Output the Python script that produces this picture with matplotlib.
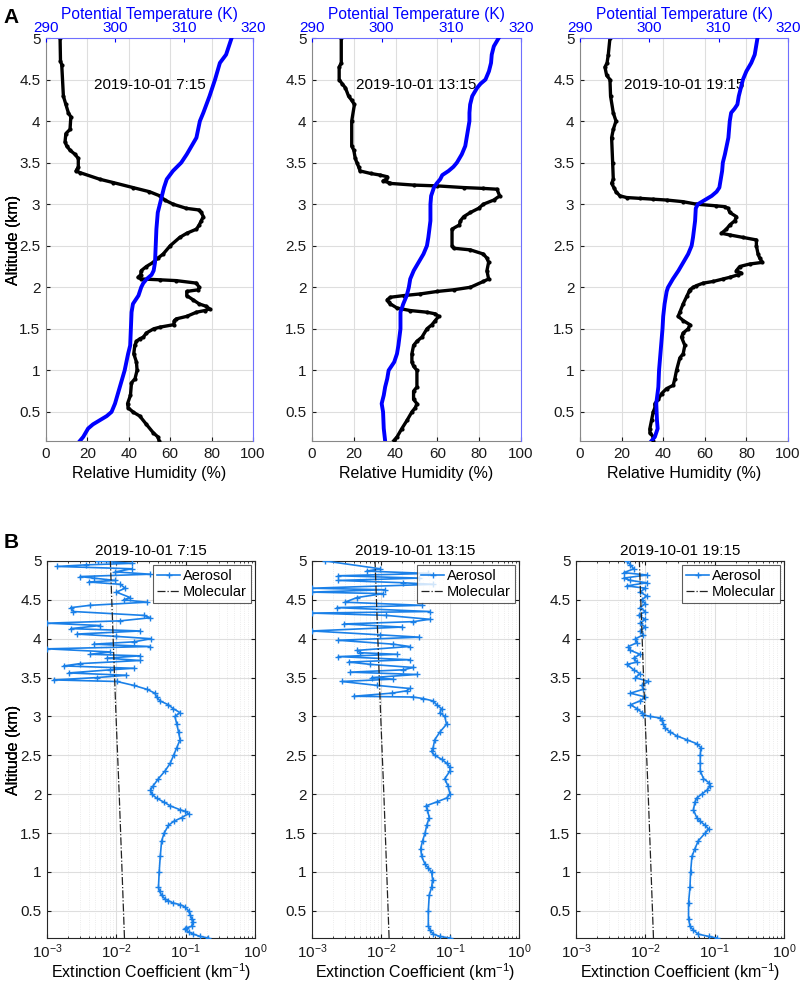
import numpy as np
import matplotlib
matplotlib.use("Agg")
import matplotlib.pyplot as plt
from matplotlib.ticker import LogLocator, NullFormatter, FixedLocator

plt.rcParams['font.family'] = ['Liberation Sans', 'DejaVu Sans']
plt.rcParams['mathtext.default'] = 'regular'
plt.rcParams['axes.unicode_minus'] = True

# ---------------- DATA ----------------
titles = ["2019-10-01 7:15", "2019-10-01 13:15", "2019-10-01 19:15"]

# Relative humidity profiles (altitude km, RH %)
rh_715 = [(5.0,6.8),(4.72,7.0),(4.68,7.6),(4.3,8.4),(4.2,9.6),(4.1,10.8),(4.05,12.0),(3.9,11.6),(3.85,9.6),
          (3.75,9.2),(3.7,10.0),(3.65,11.6),(3.6,14.0),(3.55,15.6),(3.45,15.6),(3.42,15.0),(3.4,14.5),(3.38,16.4),
          (3.3,26),(3.26,32.5),(3.2,42),(3.15,50),(3.1,55),(3.05,57.4),(3.0,61.4),(2.95,67.8),(2.93,74),(2.9,75),
          (2.85,76),(2.8,75),(2.75,74),(2.7,72.7),(2.65,68),(2.6,64.6),(2.5,60),(2.4,56.6),(2.35,54),(2.3,51.8),
          (2.25,48.5),(2.2,46),(2.15,45.7),(2.12,44.5),(2.1,46),(2.09,55),(2.08,63),(2.05,72.7),(2.0,74),(1.97,73.5),
          (1.95,68),(1.9,68),(1.85,71),(1.8,74),(1.77,77.5),(1.74,79),(1.72,76.7),(1.7,72.7),(1.65,68),(1.62,63),
          (1.6,62),(1.55,61.7),(1.52,55),(1.5,52),(1.45,48.5),(1.4,47),(1.38,45.3),(1.35,43.7),(1.3,42.9),(1.2,42.4),
          (1.1,43.7),(1.0,44),(0.9,43),(0.85,41.3),(0.7,40.8),(0.6,39.4),(0.55,39.7),(0.5,42),(0.45,45.3),
          (0.35,48.5),(0.25,51.8),(0.2,54),(0.15,54.7)]
rh_1315 = [(5.0,14),(4.7,14),(4.65,13),(4.5,13),(4.45,14.4),(4.4,16),(4.3,17.5),(4.25,19),(4.2,20.3),(4.0,19),
           (3.7,19),(3.65,20),(3.55,20.7),(3.5,21.5),(3.45,22.3),(3.4,23),(3.37,28),(3.35,32.7),(3.33,36),(3.3,35.5),
           (3.28,34),(3.26,36.7),(3.25,37.5),(3.23,48.6),(3.22,60),(3.2,72.6),(3.19,82),(3.18,88.5),(3.1,89.8),
           (3.05,87),(3.0,82),(2.95,79.7),(2.9,75.8),(2.85,72.6),(2.8,71),(2.75,70.5),(2.7,67),(2.5,67),(2.47,67.8),
           (2.45,75.8),(2.4,82),(2.35,83.7),(2.3,84.5),(2.2,83.7),(2.1,84.5),(2.07,82),(2.0,75.8),(1.97,67.8),
           (1.95,60),(1.92,51.8),(1.9,43.9),(1.88,37.5),(1.85,36),(1.82,36.7),(1.8,37.5),(1.75,40.7),(1.72,47),
           (1.7,55),(1.68,59),(1.65,60.6),(1.6,59),(1.55,57.4),(1.5,55),(1.4,52.6),(1.35,50.2),(1.3,48.6),(1.2,47.8),
           (1.1,47.8),(1.05,48.6),(1.0,50.2),(0.8,50.2),(0.75,48.6),(0.65,48.6),(0.6,50.2),(0.55,49.4),(0.5,47.8),
           (0.4,45.5),(0.3,43),(0.2,40.7),(0.15,39)]
rh_1915 = [(5.0,14.4),(4.8,13.6),(4.7,13),(4.65,12),(4.55,12.8),(4.5,14.4),(4.3,14.7),(4.1,16),(4.0,17.3),(3.9,16),
           (3.8,15.2),(3.5,15.7),(3.3,16),(3.25,15.2),(3.2,16.3),(3.15,17.3),(3.1,19.2),(3.08,22.4),(3.07,28.8),
           (3.06,35.2),(3.05,41.6),(3.03,49.6),(3.0,56),(2.98,65.6),(2.97,69.6),(2.95,71.2),(2.9,72),(2.85,75.2),
           (2.8,74.4),(2.75,72),(2.7,70.4),(2.65,68),(2.63,72),(2.6,78.4),(2.57,84.8),(2.5,84.8),(2.4,85.6),
           (2.35,86.4),(2.3,87.7),(2.28,81.6),(2.25,76.8),(2.2,75.2),(2.17,77.6),(2.15,76),(2.12,72),(2.1,68.8),
           (2.07,64),(2.05,59.2),(2.02,56),(2.0,54.4),(1.97,52.8),(1.95,52.5),(1.9,51.5),(1.8,49.6),(1.7,48),
           (1.65,47.2),(1.6,49.6),(1.55,52.8),(1.5,52),(1.45,49.6),(1.4,48.8),(1.3,50.4),(1.2,49.6),(1.15,48),
           (1.0,46.4),(0.9,45.6),(0.82,44.8),(0.78,41.6),(0.72,39.2),(0.65,37.6),(0.6,36),(0.55,36),(0.5,35.2),
           (0.4,34.4),(0.3,33.6),(0.25,33.6),(0.2,35.2),(0.15,35.2)]

# Potential temperature profiles (altitude km, theta K)
th_715 = [(5.0,316.9),(4.8,316.1),(4.7,315.2),(4.5,314.5),(4.3,313.7),(4.1,312.8),(4.0,312.3),(3.8,311.8),(3.7,311.1),
          (3.6,310.4),(3.5,309.6),(3.4,308.4),(3.3,307.5),(3.2,307.1),(3.1,306.8),(3.0,306.5),(2.9,306.2),(2.7,306.0),
          (2.5,305.9),(2.3,305.8),(2.2,305.6),(2.15,305.3),(2.1,304.6),(2.05,304.1),(2.0,303.8),(1.9,303.4),
          (1.8,302.6),(1.7,302.4),(1.5,302.3),(1.3,302.2),(1.2,301.9),(1.0,301.4),(0.8,300.7),(0.6,300.0),
          (0.5,299.5),(0.45,298.8),(0.4,297.8),(0.35,296.8),(0.3,296.1),(0.2,295.4),(0.15,294.9)]
th_1315 = [(5.0,316.8),(4.9,316.1),(4.8,315.8),(4.7,315.7),(4.6,315.4),(4.5,314.9),(4.45,314.2),(4.4,313.7),
           (4.3,313.0),(4.2,312.7),(4.1,312.6),(4.0,312.6),(3.8,312.2),(3.7,312.0),(3.6,311.5),(3.5,310.8),
           (3.45,310.3),(3.4,309.6),(3.35,308.7),(3.3,308.4),(3.25,307.9),(3.2,307.5),(3.1,307.1),(3.0,307.0),
           (2.8,307.0),(2.6,306.7),(2.5,306.5),(2.4,306.0),(2.3,305.3),(2.2,304.6),(2.1,304.1),(2.0,303.9),
           (1.9,303.6),(1.8,303.1),(1.7,302.7),(1.5,302.7),(1.3,302.4),(1.2,302.2),(1.1,301.8),(1.0,301.0),
           (0.9,300.8),(0.8,300.5),(0.7,300.3),(0.6,300.0),(0.5,300.2),(0.3,300.3),(0.15,300.5)]
th_1915 = [(5.0,315.6),(4.8,315.2),(4.7,314.7),(4.6,314.0),(4.5,313.5),(4.3,312.9),(4.2,312.7),(4.15,312.3),
           (4.1,311.8),(4.0,311.6),(3.8,311.4),(3.6,310.9),(3.5,310.6),(3.4,310.5),(3.3,310.3),(3.2,310.1),
           (3.15,309.7),(3.1,309.0),(3.05,308.0),(3.0,307.0),(2.95,306.7),(2.8,306.6),(2.6,306.3),(2.5,306.1),
           (2.4,305.6),(2.3,304.9),(2.2,304.2),(2.1,303.4),(2.0,302.7),(1.95,302.5),(1.8,302.2),(1.65,302.0),
           (1.5,301.9),(1.2,301.6),(1.0,301.4),(0.8,301.3),(0.6,301.0),(0.4,301.1),(0.3,301.2),(0.2,300.8),
           (0.15,300.3)]

# Aerosol extinction profiles (altitude km, extinction km^-1)
ext_715 = [(0.15,0.213),(0.17,0.162),(0.2,0.129),(0.23,0.11),(0.26,0.098),(0.28,0.101),(0.3,0.122),(0.35,0.126),
           (0.4,0.122),(0.45,0.116),(0.5,0.11),(0.55,0.098),(0.58,0.083),(0.6,0.066),(0.63,0.0565),(0.65,0.0505),
           (0.7,0.045),(0.75,0.042),(0.8,0.0405),(1.0,0.0415),(1.2,0.043),(1.4,0.045),(1.5,0.049),(1.6,0.0565),
           (1.65,0.067),(1.7,0.088),(1.75,0.11),(1.78,0.098),(1.8,0.083),(1.85,0.06),(1.9,0.048),(1.95,0.038),
           (2.0,0.0325),(2.05,0.031),(2.1,0.0335),(2.2,0.0405),(2.3,0.0505),(2.4,0.06),(2.5,0.067),(2.6,0.0745),
           (2.7,0.083),(2.8,0.079),(2.9,0.0745),(3.0,0.07),(3.05,0.083),(3.1,0.066),(3.15,0.0565),(3.2,0.0428),
           (3.25,0.038),(3.3,0.036),(3.35,0.0275),(3.4,0.0177),(3.45,0.0102),
           (3.47,0.00125),(3.5,0.0052),(3.53,0.014),(3.56,0.00205),(3.6,0.0082),(3.62,0.0177),(3.65,0.00174),
           (3.68,0.003),(3.72,0.022),(3.75,0.0073),(3.78,0.022),(3.8,0.0042),(3.83,0.0082),(3.87,0.001),
           (3.9,0.031),(3.93,0.0047),(3.96,0.0177),(4.0,0.032),(4.03,0.01),(4.06,0.0027),(4.1,0.022),(4.13,0.0022),
           (4.17,0.0059),(4.2,0.001),(4.23,0.0114),(4.27,0.031),(4.3,0.025),(4.35,0.0024),(4.4,0.0022),(4.43,0.0042),
           (4.47,0.0276),(4.5,0.0127),(4.53,0.0158),(4.6,0.01),(4.65,0.0134),(4.7,0.0114),(4.73,0.004),(4.75,0.0096),
           (4.78,0.0047),(4.8,0.003),(4.83,0.031),(4.86,0.0096),(4.9,0.0168),(4.93,0.0014),(4.95,0.0036),
           (4.97,0.0168),(5.0,0.0055)]
ext_1315 = [(0.15,0.1),(0.17,0.0714),(0.2,0.057),(0.25,0.0515),(0.3,0.0485),(0.5,0.0485),(0.7,0.05),(0.8,0.054),
            (0.9,0.056),(1.0,0.054),(1.05,0.0485),(1.1,0.0435),(1.2,0.0388),(1.3,0.0376),(1.4,0.04),(1.5,0.0435),
            (1.6,0.046),(1.7,0.05),(1.8,0.047),(1.85,0.045),(1.9,0.064),(1.95,0.089),(2.0,0.1),(2.1,0.094),
            (2.2,0.084),(2.3,0.1),(2.35,0.1),(2.4,0.089),(2.45,0.0755),(2.5,0.06),(2.55,0.054),(2.6,0.057),
            (2.7,0.06),(2.8,0.0714),(2.9,0.089),(3.0,0.084),(3.05,0.0714),(3.1,0.0755),(3.15,0.064),(3.2,0.057),
            (3.23,0.041),(3.25,0.0294),(3.26,0.004),
            (3.3,0.0143),(3.33,0.0236),(3.36,0.026),(3.4,0.0087),(3.45,0.0027),(3.48,0.015),(3.5,0.00735),
            (3.54,0.033),(3.57,0.0036),(3.6,0.021),(3.63,0.0294),(3.67,0.007),(3.7,0.0034),(3.73,0.026),
            (3.77,0.0024),(3.8,0.0169),(3.82,0.005),(3.85,0.0045),(3.9,0.026),(3.93,0.015),(3.98,0.0024),
            (4.02,0.036),(4.05,0.0097),(4.1,0.001),(4.15,0.02),(4.19,0.0029),(4.22,0.0294),(4.25,0.051),(4.3,0.012),
            (4.33,0.001),(4.35,0.051),(4.4,0.0023),(4.43,0.039),(4.47,0.003),(4.53,0.0045),(4.58,0.0108),
            (4.6,0.001),(4.63,0.0114),(4.65,0.001),(4.7,0.057),(4.72,0.021),(4.75,0.0024),(4.78,0.036),
            (4.81,0.0024),(4.84,0.048),(4.87,0.0062),(4.9,0.0097),(5.0,0.00156)]
ext_1915 = [(0.15,0.107),(0.17,0.082),(0.2,0.058),(0.25,0.0494),(0.3,0.044),(0.4,0.042),(0.6,0.042),(0.8,0.044),
            (1.0,0.045),(1.2,0.047),(1.3,0.052),(1.4,0.058),(1.5,0.073),(1.55,0.082),(1.6,0.073),(1.65,0.062),
            (1.7,0.055),(1.8,0.0494),(1.9,0.052),(1.95,0.055),(2.0,0.065),(2.05,0.077),(2.1,0.086),(2.15,0.082),
            (2.2,0.069),(2.3,0.062),(2.4,0.062),(2.5,0.062),(2.6,0.063),(2.65,0.055),(2.7,0.0397),(2.75,0.0284),
            (2.8,0.0228),(2.85,0.0193),(2.9,0.0182),(2.95,0.0173),(2.98,0.0164),(3.0,0.0118),(3.02,0.0094),
            (3.05,0.0089),(3.1,0.0076),(3.15,0.0061),(3.2,0.0084),(3.25,0.01),(3.3,0.0061),(3.35,0.0094),
            (3.4,0.0089),(3.45,0.0111),(3.5,0.0072),(3.55,0.0084),(3.6,0.0068),(3.67,0.0054),(3.7,0.0076),
            (3.75,0.0068),(3.8,0.0084),(3.85,0.0061),(3.9,0.0057),(3.95,0.0076),(4.0,0.0072),(4.05,0.0094),
            (4.1,0.0084),(4.15,0.01),(4.2,0.0084),(4.25,0.01),(4.3,0.008),(4.35,0.01),(4.4,0.0084),(4.45,0.01),
            (4.5,0.0089),(4.55,0.0105),(4.6,0.0084),(4.65,0.01),(4.68,0.0054),(4.72,0.0105),(4.75,0.0061),
            (4.78,0.0049),(4.82,0.0105),(4.85,0.0049),(4.9,0.0068),(4.95,0.0061),(5.0,0.0054)]

# Molecular extinction (same for all times)
mol_alt = [0.15, 1.0, 2.0, 3.0, 4.0, 5.0]
mol_ext = [0.0131, 0.0121, 0.0110, 0.0099, 0.0090, 0.0082]

rh_sets = [rh_715, rh_1315, rh_1915]
th_sets = [th_715, th_1315, th_1915]
ext_sets = [ext_715, ext_1315, ext_1915]

alt_ticks = [0.5, 1, 1.5, 2, 2.5, 3, 3.5, 4, 4.5, 5]
rh_ticks = [0, 20, 40, 60, 80, 100]
th_ticks = [290, 300, 310, 320]

# ---------------- FIGURE ----------------
W, H = 803, 981
fig = plt.figure(figsize=(W / 100, H / 100), dpi=100)

def frac(l, r, t, b):
    return [l / W, 1 - b / H, (r - l) / W, (b - t) / H]

top_boxes = [(46, 253, 38, 441), (312, 521, 38, 441), (580, 788, 38, 441)]
bot_boxes = [(47, 255, 561, 938), (312, 519, 561, 938), (576, 784, 561, 938)]

AX_COL = '#262626'
GRID_COL = '#dedede'
AER_COL = '#1a80e8'
TICK_FS = 11
LAB_FS = 11.5

for i in range(3):
    l, r, t, b = top_boxes[i]
    ax = fig.add_axes(frac(*top_boxes[i]))
    alt_rh = [p[0] for p in rh_sets[i]]
    val_rh = [p[1] for p in rh_sets[i]]
    alt_th = [p[0] for p in th_sets[i]]
    val_th = [p[1] for p in th_sets[i]]

    ax.plot(val_rh, alt_rh, color='black', lw=2.4, marker='o', ms=2.0, zorder=3)
    ax.set_xlim(0, 100)
    ax.set_ylim(0.15, 5)
    ax.set_xticks(rh_ticks)
    ax.set_yticks(alt_ticks)
    ax.set_yticklabels([f"{v:g}" for v in alt_ticks])
    ax.grid(True, color=GRID_COL, lw=0.8)
    ax.set_axisbelow(True)
    ax.tick_params(direction='in', length=3, labelsize=TICK_FS, colors='#1a1a1a', pad=4)
    for s in ['left', 'bottom']:
        ax.spines[s].set_color('#888888')
        ax.spines[s].set_linewidth(0.8)
    ax.spines['top'].set_visible(False)
    ax.spines['right'].set_visible(False)
    ax.set_xlabel("Relative Humidity (%)", fontsize=LAB_FS)
    ax.xaxis.set_label_coords(0.5, -(466 - b) / (b - t))
    ax.set_ylabel("Altitude (km)", fontsize=LAB_FS)
    ax.yaxis.set_label_coords(-(l - 21) / (r - l), 0.5)
    ax.text(50, 4.43, titles[i], ha='center', va='center', fontsize=11, color='black', zorder=5)

    ax2 = ax.twiny()
    ax2.plot(val_th, alt_th, color='#0000ff', lw=2.8, zorder=4)
    ax2.set_xlim(290, 320)
    ax2.set_xticks(th_ticks)
    ax2.tick_params(direction='in', length=3, labelsize=TICK_FS, colors='#0000ff', pad=2)
    ax2.set_xlabel("Potential Temperature (K)", fontsize=11.2, color='#0000ff')
    ax2.xaxis.set_label_coords(0.5, 1 + (t - 19) / (b - t))
    for s in ['top', 'right']:
        ax2.spines[s].set_color('#6f6fff')
        ax2.spines[s].set_linewidth(0.8)
    ax2.spines['left'].set_visible(False)
    ax2.spines['bottom'].set_visible(False)

for i in range(3):
    l, r, t, b = bot_boxes[i]
    ax = fig.add_axes(frac(*bot_boxes[i]))
    alt_e = [p[0] for p in ext_sets[i]]
    val_e = [p[1] for p in ext_sets[i]]
    ax.plot(val_e, alt_e, color=AER_COL, lw=1.2, marker='+', ms=5, mew=1.0, label='Aerosol', zorder=3)
    ax.plot(mol_ext, mol_alt, color='#222222', lw=0.9, ls='-.', label='Molecular', zorder=4)
    ax.set_xscale('log')
    ax.set_xlim(1e-3, 1)
    ax.set_ylim(0.15, 5)
    ax.set_yticks(alt_ticks)
    ax.set_yticklabels([f"{v:g}" for v in alt_ticks])
    ax.xaxis.set_major_locator(FixedLocator([1e-3, 1e-2, 1e-1, 1]))
    ax.xaxis.set_minor_locator(LogLocator(base=10, subs=np.arange(2, 10), numticks=20))
    ax.xaxis.set_minor_formatter(NullFormatter())
    ax.grid(True, which='major', color=GRID_COL, lw=0.8)
    ax.grid(True, which='minor', axis='x', color='#e6e6e6', lw=0.6, ls=':')
    ax.set_axisbelow(True)
    ax.tick_params(which='both', direction='in', top=True, right=True, labelsize=TICK_FS, colors='#1a1a1a')
    ax.tick_params(axis='x', which='major', length=3, pad=3)
    ax.tick_params(axis='y', which='major', length=3, pad=4)
    ax.tick_params(which='minor', length=1.5)
    for s in ax.spines.values():
        s.set_color(AX_COL)
        s.set_linewidth(0.8)
    ax.set_xlabel("Extinction Coefficient (km$^{-1}$)", fontsize=LAB_FS)
    ax.xaxis.set_label_coords(0.5, -(961 - b) / (b - t))
    ax.set_ylabel("Altitude (km)", fontsize=LAB_FS)
    ax.yaxis.set_label_coords(-(l - 21) / (r - l), 0.5)
    ax.set_title(titles[i], fontsize=11, pad=4)
    leg = ax.legend(loc='upper right', fontsize=10.5, frameon=True, fancybox=False,
                    handlelength=1.6, handletextpad=0.2, borderpad=0.25, labelspacing=0.15,
                    borderaxespad=0.3)
    leg.get_frame().set_edgecolor('#333333')
    leg.get_frame().set_linewidth(0.8)

fig.text(0.004, 0.992, "A", fontsize=15, fontweight='bold', ha='left', va='top')
fig.text(0.004, 0.457, "B", fontsize=15, fontweight='bold', ha='left', va='top')

fig.savefig("out.png", dpi=100)
